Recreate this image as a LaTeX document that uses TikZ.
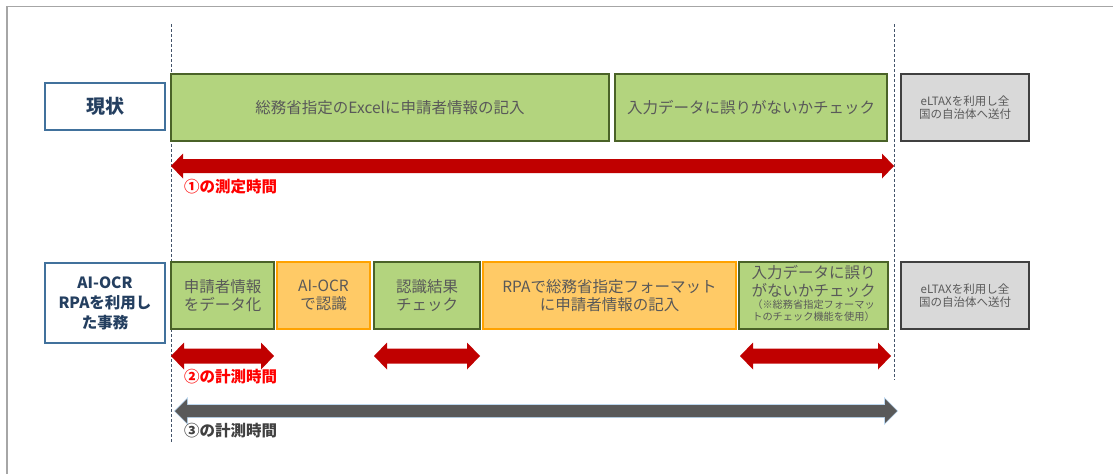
\documentclass[tikz,border=0pt]{standalone}
\usepackage{fontspec}
\setmainfont{Noto Sans CJK JP}
\definecolor{gfill}{HTML}{B3D47E}
\definecolor{gline}{HTML}{4A6228}
\definecolor{ofill}{HTML}{FFCA66}
\definecolor{oline}{HTML}{FFA200}
\definecolor{grfill}{HTML}{D9D9D9}
\definecolor{grline}{HTML}{404040}
\definecolor{hline}{HTML}{41719C}
\definecolor{htext}{HTML}{243F60}
\definecolor{btext}{HTML}{595959}
\definecolor{arred}{HTML}{C00000}
\definecolor{argray}{HTML}{595959}
\definecolor{arglow}{HTML}{BDD7EE}
\definecolor{dashc}{HTML}{44546A}
\definecolor{framec}{HTML}{A6A6A6}
\newcommand\myhdblarrow[7]{%
  \fill[#7] (#1,#3) -- ({#1+#6},{#3-#5}) -- ({#1+#6},{#3-#4}) -- ({#2-#6},{#3-#4}) -- ({#2-#6},{#3-#5})
    -- (#2,#3) -- ({#2-#6},{#3+#5}) -- ({#2-#6},{#3+#4}) -- ({#1+#6},{#3+#4}) -- ({#1+#6},{#3+#5}) -- cycle;}
\begin{document}
\begin{tikzpicture}[x=1pt,y=-1pt,
  gbox/.style={draw=gline,line width=1.2pt,fill=gfill,text=btext,font=\fontsize{15.5}{18.5}\selectfont,align=center,inner sep=0pt},
  obox/.style={draw=oline,line width=1.2pt,fill=ofill,text=btext,font=\fontsize{15.5}{18.5}\selectfont,align=center,inner sep=0pt},
  grbox/.style={draw=grline,line width=1.2pt,fill=grfill,text=btext,font=\fontsize{11.5}{13.5}\selectfont,align=center,inner sep=0pt},
  hbox/.style={draw=hline,line width=1.2pt,fill=white,text=htext,font=\bfseries,align=center,inner sep=0pt},
  lbl/.style={anchor=west,inner sep=0pt,font=\fontsize{15.5}{17}\selectfont\bfseries},
  vdash/.style={draw=dashc,line width=1pt,dash pattern=on 3pt off 2pt}]
\useasboundingbox (0,0) rectangle (1113,474);
% frame
\draw[framec,line width=1.4pt] (7,474) -- (7,6.5) -- (1113,6.5);
% dashed guides
\coordinate (d1t) at (171,24); \coordinate (d1b) at (171,442);
\coordinate (d2t) at (894,24); \coordinate (d2b) at (894,380);
\draw[vdash] (d1t) -- (d1b);
\draw[vdash] (d2t) -- (d2b);
% headers
\node[hbox,minimum width=120pt,minimum height=47pt,font=\fontsize{19}{22}\selectfont\bfseries] (h1) at (105,106.5) {現状};
\node[hbox,minimum width=120pt,minimum height=80pt,font=\fontsize{15.5}{20}\selectfont\bfseries] (h2) at (105,303) {AI-OCR\\RPAを利用し\\た事務};
% row 1
\node[gbox,minimum width=438pt,minimum height=67pt] (t1) at (390,107.5) {総務省指定のExcelに申請者情報の記入};
\node[gbox,minimum width=272pt,minimum height=67pt] (t2) at (751,107.5) {入力データに誤りがないかチェック};
\node[grbox,minimum width=128pt,minimum height=67pt] (t3) at (965,107.5) {eLTAXを利用し全\\国の自治体へ送付};
% row 2
\node[gbox,minimum width=103pt,minimum height=67pt] (b1) at (222.5,295.5) {申請者情報\\をデータ化};
\node[obox,minimum width=93pt,minimum height=67pt] (b2) at (323.5,295.5) {AI-OCR\\で認識};
\node[gbox,minimum width=106pt,minimum height=67pt] (b3) at (427,295.5) {認識結果\\チェック};
\node[obox,minimum width=253pt,minimum height=67pt] (b4) at (609.5,295.5) {RPAで総務省指定フォーマット\\に申請者情報の記入};
\node[gbox,minimum width=149pt,minimum height=67pt] (b5) at (813.5,295.5) {};
\node[inner sep=0pt,text=btext,align=center,font=\fontsize{15.5}{18}\selectfont] (b5a) at (813.5,281) {入力データに誤り\\がないかチェック};
\node[inner sep=0pt,text=btext,align=center,font=\fontsize{10.2}{12}\selectfont] (b5b) at (813.5,311) {（※総務省指定フォーマッ\\トのチェック機能を使用）};
\node[grbox,minimum width=128pt,minimum height=67pt] (b6) at (965,295.5) {eLTAXを利用し全\\国の自治体へ送付};
% arrows
\myhdblarrow{171}{894}{166}{7}{12.5}{12}{arred}
\myhdblarrow{171}{274}{356}{7.5}{13.5}{13}{arred}
\myhdblarrow{374}{480}{356}{7.5}{13.5}{13}{arred}
\myhdblarrow{740}{891}{356}{7.5}{13.5}{13}{arred}
\begin{scope}
\draw[arglow,line width=1.6pt] (175,411) -- (187,399) -- (187,405) -- (885,405) -- (885,399) -- (897,411) -- (885,423) -- (885,417) -- (187,417) -- (187,423) -- cycle;
\myhdblarrow{175}{897}{411}{6}{12}{12}{argray}
\end{scope}
% labels
\node[lbl,text=red] (l1) at (184,187) {①の測定時間};
\node[lbl,text=red] (l2) at (184,377) {②の計測時間};
\node[lbl,text=grline] (l3) at (184,431) {③の計測時間};
\end{tikzpicture}
\end{document}
